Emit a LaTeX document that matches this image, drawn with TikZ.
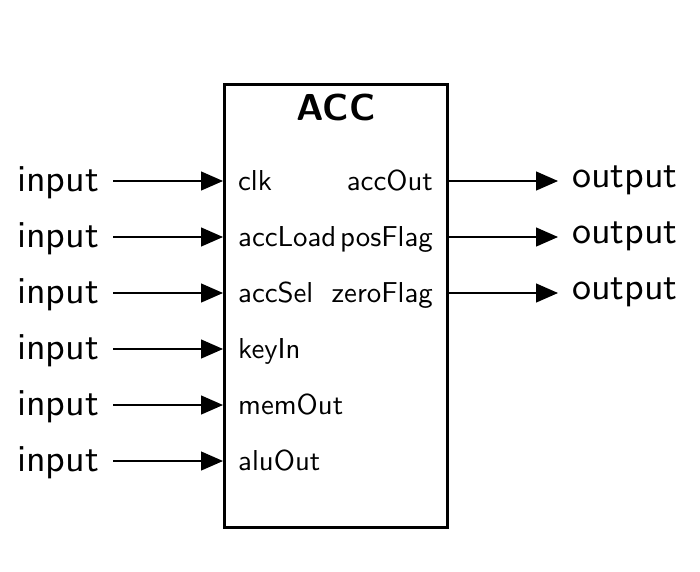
\documentclass[tikz,border=0pt]{standalone}
\usepackage{fontspec}
\setsansfont{lmsans10-regular.otf}[BoldFont=lmsans10-bold.otf]
\usetikzlibrary{arrows.meta}
\renewcommand{\familydefault}{\sfdefault}
\begin{document}
\begin{tikzpicture}[x=1pt,y=-1pt,
  sig/.style={line width=1.3pt,-{Triangle[length=22pt,width=19pt]}},
  iolab/.style={inner sep=0pt,font=\sffamily\fontsize{38}{42}\selectfont},
  portlab/.style={inner sep=0pt,font=\sffamily\fontsize{28.8}{32}\selectfont},
  ttl/.style={inner sep=0pt,font=\sffamily\fontsize{37.5}{42}\selectfont\bfseries}]
\useasboundingbox (0,0) rectangle (700,571);
\node[draw,line width=3pt,minimum width=223pt,minimum height=443pt,inner sep=0pt] (box) at (336,305.5) {};
\node[ttl,anchor=base] (title) at (336,120.7) {ACC};
% inputs
\foreach \n/\y/\p in {1/181/clk,2/237/accLoad,3/293/accSel,4/349/keyIn,5/405/memOut,6/461/aluOut}{
  \node[iolab,anchor=base east] (in\n) at (99,\y+10) {input};
  \coordinate (s\n) at (113,\y);
  \draw[sig] (s\n) -- (s\n -| box.west);
  \node[portlab,anchor=base west] (p\n) at (238,\y+9.7) {\p};
}
% outputs
\foreach \n/\y/\p in {1/181/accOut,2/237/posFlag,3/293/zeroFlag}{
  \node[portlab,anchor=base east] (q\n) at (433,\y+9.7) {\p};
  \coordinate (e\n) at (558,\y);
  \draw[sig] (e\n -| box.east) -- (e\n);
  \node[iolab,anchor=base west] (out\n) at (572,\y+6.5) {output};
}
\end{tikzpicture}
\end{document}
